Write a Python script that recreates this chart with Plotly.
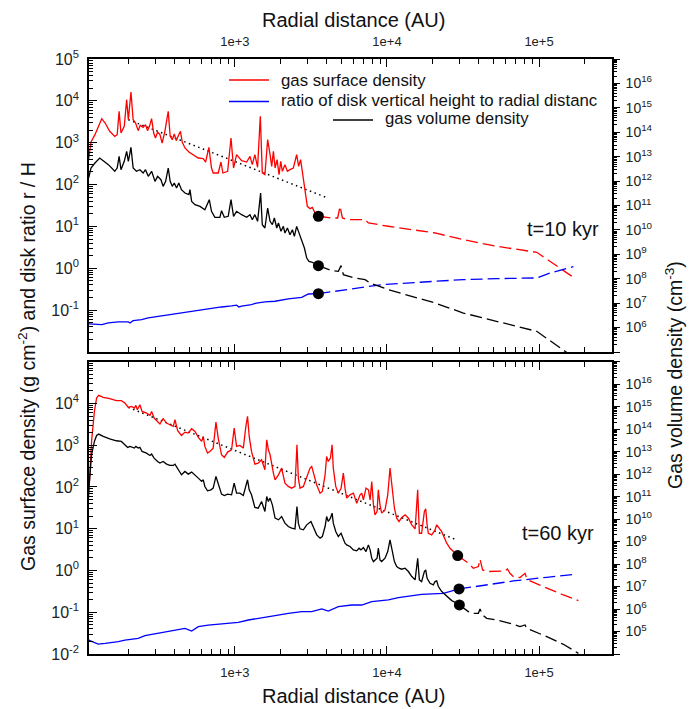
import plotly.graph_objects as go

FONT = "Arial, Liberation Sans, sans-serif"

# ---------------- t = 10 kyr (upper panel) ----------------
# gas surface density (g cm^-2), solid part up to the dot
r10_sig = [109, 113, 120, 127, 133, 140, 150, 162, 168, 173,
           178, 187, 194, 199, 207, 214, 222, 231, 238, 249,
           258, 266, 274, 283, 292, 300, 310, 321, 332, 346,
           364, 375, 387, 399, 411, 427, 438, 450, 469, 498,
           532, 574, 619, 641, 674, 701, 719, 776, 809, 833,
           895, 942, 979, 1025, 1106, 1194, 1256, 1300, 1352, 1409,
           1468, 1513, 1574, 1641, 1702, 1745, 1790, 1836, 1892, 1950,
           2000, 2051, 2133, 2213, 2301, 2421, 2546, 2623, 2703, 2793,
           2890, 2992, 3118, 3228, 3365, 3539]
sig10 = [394, 1040, 1556, 2460, 3750, 2958, 1871, 1419, 1556, 5610,
         1706, 2460, 10670, 3548, 16255, 3548, 2958, 1941, 2600, 2328,
         2698, 1941, 2460, 3750, 1706, 1297, 1803, 1556, 984, 1871,
         5610, 1419, 1183, 1614, 1119, 1556, 1871, 1040, 748, 600,
         518, 431, 416, 346, 776, 249, 189, 189, 346, 189,
         207, 1297, 249, 518, 372, 346, 473, 299, 518, 258,
         4266, 189, 173, 1183, 518, 273, 622, 249, 394, 173,
         359, 207, 299, 207, 227, 249, 518, 273, 394, 173,
         69.0, 30.2, 26.6, 28.6, 20.9, 17.5]
r10_sig_out = [3539, 4325, 4740, 4908, 5092, 5570, 7177, 7550, 10208, 20704,
               31774, 52726, 96607, 118039, 168270]
sig10_out = [17.5, 15.9, 15.9, 30.2, 15.9, 14.5, 14.5, 12.1, 10.1, 6.97,
             4.83, 3.35, 2.41, 1.47, 0.609]

# gas volume density (cm^-3), right axis
r10_n = [109, 113, 120, 129, 136, 147, 162, 168, 173, 178,
         187, 194, 199, 207, 214, 225, 237, 249, 258, 269,
         283, 298, 310, 326, 337, 350, 364, 375, 387, 399,
         413, 427, 445, 469, 498, 506, 519, 546, 589, 634,
         678, 701, 738, 796, 816, 851, 903, 942, 979, 1025,
         1106, 1194, 1256, 1300, 1352, 1409, 1475, 1513, 1574, 1641,
         1702, 1762, 1816, 1883, 1932, 2009, 2080, 2133, 2213, 2301,
         2388, 2459, 2546, 2612, 2679, 2748, 2863, 2965, 3069, 3198,
         3365, 3539]
n10 = [1.34e12, 3.43e12, 5.50e12, 8.81e12, 6.84e12, 4.70e12, 2.51e12, 3.43e12, 1.03e13, 2.93e12,
       6.43e12, 1.65e13, 6.43e12, 2.40e13, 3.43e12, 2.51e12, 2.93e12, 2.14e12, 2.93e12, 1.56e12,
       2.51e12, 9.75e11, 1.56e12, 1.14e12, 6.08e11, 9.75e11, 3.43e12, 9.75e11, 6.08e11, 8.34e11,
       5.20e11, 8.34e11, 4.45e11, 3.24e11, 2.77e11, 4.45e11, 1.48e11, 1.08e11, 9.23e10, 6.75e10,
       1.73e11, 5.77e10, 3.27e10, 3.27e10, 6.14e10, 3.27e10, 3.60e10, 1.73e11, 3.60e10, 5.77e10,
       4.21e10, 3.27e10, 4.21e10, 2.62e10, 4.21e10, 2.24e10, 3.24e11, 1.64e10, 1.20e10, 7.89e10,
       2.24e10, 1.64e10, 3.08e10, 1.20e10, 1.92e10, 8.75e9, 1.40e10, 7.46e9, 1.20e10, 6.38e9,
       1.02e10, 5.46e9, 1.40e10, 8.75e9, 6.38e9, 3.98e9, 1.82e9, 7.06e8, 5.16e8, 4.85e8,
       4.02e8, 3.44e8]
r10_n_out = [3539, 4325, 4786, 4988, 5164, 6165, 7177, 7744, 10208, 20704,
             31774, 52726, 96607, 148258, 168270]
n10_out = [3.44e8, 2.14e8, 2.01e8, 3.44e8, 1.47e8, 1.07e8, 9.16e7, 6.70e7, 3.57e7, 1.02e7,
           3.95e6, 1.80e6, 7.02e5, 1.07e5, 6.05e4]

# ratio of disk vertical height to radial distance
r10_h = [109, 120, 133, 147, 171, 199, 204, 214, 243, 269,
         298, 346, 403, 469, 546, 634, 701, 816, 950, 1025,
         1062, 1106, 1285, 1387, 1574, 1836, 2244, 2748, 2890, 3041,
         3539]
h10 = [0.0468, 0.0451, 0.0451, 0.0494, 0.0522, 0.0522, 0.0494, 0.0561, 0.0593, 0.0650,
       0.0687, 0.0753, 0.0811, 0.0889, 0.0973, 0.105, 0.113, 0.119, 0.126, 0.131,
       0.119, 0.124, 0.136, 0.148, 0.157, 0.163, 0.185, 0.203, 0.222, 0.243,
       0.248]
r10_h_out = [3539, 4786, 6165, 9225, 20704, 31774, 52726, 96607, 118039, 168270]
h10_out = [0.248, 0.292, 0.339, 0.406, 0.489, 0.536, 0.566, 0.587, 0.773, 1.09]

fit10_r = [199, 3972]
fit10 = [3548, 49.6]

# ---------------- t = 60 kyr (lower panel) ----------------
r60_sig = [109, 111, 114, 119, 123, 127, 136, 150, 166, 179,
           189, 199, 209, 218, 223, 228, 237, 245, 262, 276,
           283, 294, 310, 321, 337, 355, 373, 393, 403, 420,
           445, 469, 493, 519, 546, 574, 604, 619, 634, 660,
           684, 719, 750, 776, 816, 851, 895, 950, 988, 1025,
           1078, 1135, 1180, 1210, 1241, 1285, 1352, 1422, 1496, 1574,
           1618, 1659, 1702, 1745, 1790, 1836, 1932, 2027, 2133, 2244,
           2360, 2482, 2558, 2612, 2679, 2818, 2965, 3118, 3198, 3281,
           3365, 3451, 3630, 3757, 3917, 4008, 4111, 4245, 4355, 4435,
           4602, 4786, 4988, 5164, 5295, 5432, 5714, 6011, 6324, 6652,
           6822, 6997, 7276, 7550, 7744, 7942, 8146, 8336, 8608, 8768,
           8993, 9225, 9703, 10114, 10470, 10863, 11192, 11587, 11993, 12501,
           13150, 13835, 14553, 15312, 15921, 16328, 16897, 17615, 17981, 18360,
           18699, 19675, 20704, 21240, 22909, 24713, 25998, 27361, 29183]
sig60 = [54.0, 283, 1233, 6457, 13490, 15630, 14000, 13000, 11640, 11640,
         10230, 8050, 8510, 7760, 8990, 7080, 9330, 6457, 5890, 5180,
         6457, 4470, 3720, 3210, 4310, 3390, 3090, 2820, 4070, 2220,
         1710, 2060, 1950, 2480, 2140, 1540, 1233, 1620, 935, 647,
         710, 853, 3580, 1480, 590, 509, 684, 778, 2570, 935,
         988, 853, 2820, 4900, 1620, 710, 352, 372, 448, 258,
         1352, 778, 590, 310, 214, 148, 195, 283, 123, 103,
         93.5, 103, 1026, 163, 93.5, 103, 163, 283, 310, 214,
         148, 112, 71.1, 78.0, 195, 538, 408, 491, 1026, 283,
         103, 71.1, 93.5, 214, 93.5, 54.0, 64.9, 71.1, 40.9, 64.9,
         71.1, 49.2, 93.5, 85.5, 49.2, 135, 37.3, 21.5, 25.8, 85.5,
         37.3, 23.6, 28.3, 64.9, 283, 93.5, 31.0, 17.9, 14.9, 18.5,
         21.5, 17.9, 12.4, 9.91, 85.5, 7.80, 7.80, 25.8, 29.9, 12.4,
         7.80, 7.11, 9.38, 12.4, 8.5, 4.50, 3.41, 2.84, 2.28]
r60_sig_out = [29183, 30968, 34287, 36993, 39909, 40926, 42557, 45281, 52726, 59710,
               61936, 64411, 67769, 74983, 80911, 82985, 87301, 112454, 144555, 181548]
sig60_out = [2.28, 1.96, 1.49, 1.13, 1.24, 1.86, 1.03, 0.94, 0.94, 0.975,
             1.09, 0.857, 0.713, 0.675, 0.857, 0.650, 0.561, 0.374, 0.259, 0.190]

r60_n = [109, 111, 114, 119, 123, 127, 136, 150, 166, 179,
         187, 197, 204, 218, 223, 231, 237, 245, 262, 276,
         283, 294, 310, 321, 337, 355, 373, 393, 403, 420,
         445, 469, 493, 519, 546, 574, 604, 619, 634, 660,
         695, 719, 750, 776, 816, 851, 895, 950, 988, 1025,
         1078, 1135, 1180, 1210, 1241, 1285, 1352, 1422, 1496, 1574,
         1618, 1659, 1702, 1762, 1836, 1932, 2027, 2133, 2244, 2360,
         2482, 2558, 2612, 2679, 2818, 2965, 3161, 3228, 3327, 3451,
         3630, 3757, 3917, 4008, 4111, 4245, 4355, 4435, 4602, 4786,
         4988, 5164, 5295, 5432, 5714, 6011, 6324, 6546, 6744, 6997,
         7276, 7550, 7744, 7942, 8146, 8608, 8768, 8993, 9225, 9703,
         10114, 10470, 10863, 11192, 11587, 11993, 12501, 13150, 13835, 14553,
         15312, 15921, 16328, 16897, 17615, 17981, 18360, 19187, 20176, 20702,
         21240, 21777, 22909, 24099, 25346, 26670, 27994, 29932]
n60 = [1.69e11, 9.35e11, 7.26e12, 2.85e13, 5.27e13, 6.04e13, 4.75e13, 3.74e13, 3.05e13, 2.85e13,
       2.17e13, 1.54e13, 1.71e13, 1.44e13, 1.71e13, 1.44e13, 1.54e13, 1.02e13, 8.61e12, 6.78e12,
       7.78e12, 5.16e12, 3.66e12, 3.09e12, 3.66e12, 2.79e12, 2.43e12, 2.43e12, 2.79e12, 1.67e12,
       9.35e11, 1.32e12, 1.00e12, 1.23e12, 9.35e11, 6.64e11, 4.72e11, 5.60e11, 2.82e11, 1.81e11,
       2.01e11, 2.38e11, 7.87e11, 3.98e11, 1.29e11, 1.12e11, 1.29e11, 1.20e11, 3.98e11, 1.43e11,
       1.43e11, 1.12e11, 3.59e11, 5.60e11, 2.01e11, 1.20e11, 3.28e10, 3.06e10, 6.07e10, 2.18e10,
       1.01e11, 6.07e10, 8.55e10, 4.32e10, 1.10e10, 9.27e9, 1.30e10, 6.59e9, 4.68e9, 3.94e9,
       3.68e9, 3.64e10, 6.59e9, 3.68e9, 3.33e9, 5.55e9, 7.82e9, 5.55e9, 3.33e9, 1.99e9,
       1.42e9, 1.68e9, 4.68e9, 1.30e10, 7.82e9, 1.10e10, 1.84e10, 6.59e9, 2.81e9, 1.68e9,
       2.36e9, 1.19e9, 8.47e8, 7.14e8, 6.03e8, 4.28e8, 3.86e8, 5.07e8, 4.28e8, 5.43e8,
       3.61e8, 7.14e8, 4.28e8, 1.82e8, 1.29e8, 1.82e8, 5.07e8, 1.53e8, 1.29e8, 1.82e8,
       3.61e8, 1.19e9, 3.61e8, 1.29e8, 7.74e7, 6.53e7, 5.90e7, 6.53e7, 4.65e7, 2.78e7,
       1.98e7, 1.82e8, 1.98e7, 1.66e7, 4.65e7, 5.51e7, 2.34e7, 1.40e7, 1.18e7, 1.66e7,
       1.78e7, 9.98e6, 5.97e6, 4.25e6, 3.01e6, 2.37e6, 2.00e6, 1.52e6]
r60_n_out = [29932, 31774, 34287, 36052, 39909, 40926, 42557, 45281, 52726, 64411,
             74983, 80911, 82985, 112454, 144555, 181548]
n60_out = [1.52e6, 1.08e6, 7.69e5, 6.47e5, 6.47e5, 1.01e6, 5.46e5, 3.88e5, 3.27e5, 2.32e5,
           1.65e5, 1.96e5, 1.39e5, 5.93e4, 2.70e4, 1.07e4]

r60_h = [109, 117, 126, 140, 154, 171, 189, 209, 231, 256,
         298, 346, 403, 469, 519, 574, 667, 776, 903, 1052,
         1225, 1352, 1574, 1836, 2244, 2748, 3198, 3724, 4111, 4786,
         5861, 6822, 7942, 9225, 10208, 11885, 14553, 16897, 23485, 29778]
h60 = [0.0216, 0.0190, 0.0173, 0.0179, 0.0186, 0.0197, 0.0216, 0.0224, 0.0237, 0.0274,
       0.0306, 0.0342, 0.0375, 0.0411, 0.0355, 0.0451, 0.0494, 0.0522, 0.0562, 0.0573,
       0.0652, 0.0689, 0.0741, 0.0828, 0.0942, 0.103, 0.103, 0.120, 0.107, 0.136,
       0.149, 0.149, 0.179, 0.186, 0.197, 0.224, 0.250, 0.269, 0.284, 0.361]
r60_h_out = [29778, 40926, 67769, 112454, 172587]
h60_out = [0.361, 0.434, 0.561, 0.687, 0.811]

fit60_r = [199, 28700]
fit60 = [8050, 5.40]

# ---------------------------------------------------------
# the page puts the figure 8px in from the top-left corner (body margin),
# so the figure is 8px smaller and all positions below are in window pixels
OFF = 8
W, H = 699 - OFF, 709 - OFF
ML, MR, MT, MB = 89 - OFF, 87, 59 - OFF, 55
PW, PH = W - ML - MR, H - MT - MB


def pxx(x):
    return (x - OFF - ML) / PW


def pxy(y):
    return (OFF + H - MB - y) / PH


RED, BLUE, BLACK = "#ff0000", "#0000ff", "#000000"
DASH = "12px,5px"
DOTS = "1.5px,3.5px"

fig = go.Figure()


def line(x, y, color, xa, ya, dash="solid", width=1.3):
    fig.add_trace(go.Scatter(x=x, y=y, mode="lines", xaxis=xa, yaxis=ya,
                             line=dict(color=color, width=width, dash=dash),
                             showlegend=False, hoverinfo="skip"))


def dot(x, y, xa, ya):
    fig.add_trace(go.Scatter(x=[x], y=[y], mode="markers", xaxis=xa, yaxis=ya,
                             marker=dict(color=BLACK, size=11),
                             showlegend=False, hoverinfo="skip"))


# upper panel
line(fit10_r, fit10, BLACK, "x2", "y3", dash=DOTS, width=1.5)
line(r10_sig, sig10, RED, "x2", "y3")
line(r10_sig_out, sig10_out, RED, "x2", "y3", dash=DASH)
line(r10_h, h10, BLUE, "x2", "y3")
line(r10_h_out, h10_out, BLUE, "x2", "y3", dash=DASH)
line(r10_n, n10, BLACK, "x2", "y4")
line(r10_n_out, n10_out, BLACK, "x2", "y4", dash=DASH)
dot(r10_sig[-1], sig10[-1], "x2", "y3")
dot(r10_h[-1], h10[-1], "x2", "y3")
dot(r10_n[-1], n10[-1], "x2", "y4")

# lower panel
line(fit60_r, fit60, BLACK, "x", "y", dash=DOTS, width=1.5)
line(r60_sig, sig60, RED, "x", "y")
line(r60_sig_out, sig60_out, RED, "x", "y", dash=DASH)
line(r60_h, h60, BLUE, "x", "y")
line(r60_h_out, h60_out, BLUE, "x", "y", dash=DASH)
line(r60_n, n60, BLACK, "x", "y2")
line(r60_n_out, n60_out, BLACK, "x", "y2", dash=DASH)
dot(r60_sig[-1], sig60[-1], "x", "y")
dot(r60_h[-1], h60[-1], "x", "y")
dot(r60_n[-1], n60[-1], "x", "y2")


def decades(lo, hi):
    return [10.0 ** k for k in range(lo, hi + 1)]


def minors(lo, hi):
    return [m * 10.0 ** k for k in range(lo, hi) for m in range(2, 10)]


def pow_labels(lo, hi, show_lo, show_hi):
    return ["10<sup>%d</sup>" % k if show_lo <= k <= show_hi else "" for k in range(lo, hi + 1)]


xcommon = dict(type="log", range=[2.04, 5.48], showgrid=False, zeroline=False, automargin=False,
               showline=True, linecolor=BLACK, linewidth=1.6, mirror="ticks",
               tickvals=[1e3, 1e4, 1e5], ticktext=["1e+3", "1e+4", "1e+5"],
               ticks="inside", ticklen=8, tickwidth=1.2, tickcolor=BLACK,
               minor=dict(tickvals=minors(2, 6), ticks="inside", ticklen=5, tickcolor=BLACK),
               tickfont=dict(family=FONT, size=13, color="#222"), ticklabelstandoff=6)


def yleft(lo, hi, slo, shi, dom, anchor):
    return dict(type="log", range=[lo, hi], domain=dom, anchor=anchor, automargin=False,
                showgrid=False, zeroline=False, showline=True, linecolor=BLACK, linewidth=1.6,
                tickvals=decades(lo, hi), ticktext=pow_labels(lo, hi, slo, shi),
                ticks="inside", ticklen=8, tickwidth=1.2, tickcolor=BLACK,
                minor=dict(tickvals=minors(lo, hi), ticks="inside", ticklen=4, tickcolor=BLACK),
                tickfont=dict(family=FONT, size=16, color="#222"), ticklabelstandoff=5)


def yright(lo, hi, slo, shi, over, anchor):
    return dict(type="log", range=[lo, hi], overlaying=over, side="right", anchor=anchor,
                automargin=False,
                showgrid=False, zeroline=False, showline=True, linecolor=BLACK, linewidth=1.6,
                tickvals=decades(lo, hi), ticktext=pow_labels(lo, hi, slo, shi),
                ticks="outside", ticklen=6, tickwidth=1.2, tickcolor=BLACK,
                minor=dict(tickvals=minors(lo, hi), ticks="outside", ticklen=3, tickcolor=BLACK),
                tickfont=dict(family=FONT, size=14, color="#222"), ticklabelstandoff=3)


top_lo = pxy(352)
bot_hi = pxy(361.7)

fig.update_layout(
    width=W, height=H,
    margin=dict(l=ML, r=MR, t=MT, b=MB, autoexpand=False),
    paper_bgcolor="white", plot_bgcolor="white",
    showlegend=False,
    font=dict(family=FONT, color="#222"),
    xaxis=dict(xcommon, domain=[0, 1], anchor="y", side="bottom"),
    xaxis2=dict(xcommon, domain=[0, 1], anchor="y3", side="top"),
    yaxis=yleft(-2, 5, -2, 4, [0, bot_hi], "x"),
    yaxis2=yright(4, 17, 5, 16, "y", "x"),
    yaxis3=yleft(-2, 5, -1, 5, [top_lo, 1], "x2"),
    yaxis4=yright(5, 17, 6, 16, "y3", "x2"),
)

ann = []


def text(x, y, s, size, xanchor="center", angle=0):
    ann.append(dict(xref="paper", yref="paper", x=pxx(x), y=pxy(y), text=s, showarrow=False,
                    xanchor=xanchor, yanchor="middle", textangle=angle,
                    font=dict(family=FONT, size=size, color="#111")))


text(353, 20, "Radial distance (AU)", 20)
text(353, 696, "Radial distance (AU)", 20)
text(27, 367, "Gas surface density (g cm<sup>-2</sup>) and disk ratio r / H", 19.5, angle=-90)
text(674, 375, "Gas volume density (cm<sup>-3</sup>)", 19.5, angle=-90)
text(601, 229, "t=10 kyr", 20, xanchor="right")
text(596, 533, "t=60 kyr", 20, xanchor="right")

# legend
text(279, 80, "gas surface density", 16.8, xanchor="left")
text(279, 101, "ratio of disk vertical height to radial distanc", 16.8, xanchor="left")
text(383, 119, "gas volume density", 16.8, xanchor="left")
fig.update_layout(annotations=ann)

for x0, x1, yy, c in [(229, 269, 80, RED), (229, 269, 101.5, BLUE), (333, 373, 120, BLACK)]:
    fig.add_shape(type="line", xref="paper", yref="paper", x0=pxx(x0), x1=pxx(x1),
                  y0=pxy(yy), y1=pxy(yy), line=dict(color=c, width=1.3))

fig.write_html("out.html", config={"displayModeBar": False})
